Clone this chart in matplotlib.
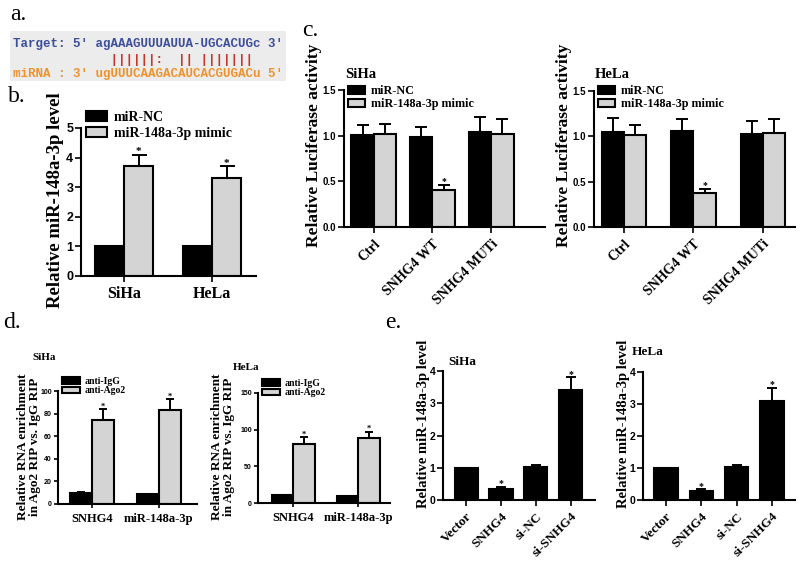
import numpy as np
import matplotlib
matplotlib.use('Agg')
import matplotlib.pyplot as plt
from matplotlib.patches import Rectangle

plt.rcParams['font.family'] = 'Liberation Serif'
plt.rcParams['font.weight'] = 'bold'

W, H = 800, 562

# ---- a. sequence alignment ----
seq_target = "Target: 5' agAAAGUUUAUUA-UGCACUGc 3'"
seq_pairs = "             ||||||:  || |||||||"
seq_mirna = "miRNA : 3' ugUUUCAAGACAUCACGUGACu 5'"

# ---- b. miR-148a-3p level ----
b_cells = ['SiHa', 'HeLa']
b_nc = [1.0, 1.0]
b_nc_err = [0, 0]
b_mimic = [3.7, 3.3]
b_mimic_err = [0.4, 0.4]
b_sig = [True, True]

# ---- c. luciferase ----
c_groups = ['Ctrl', 'SNHG4 WT', 'SNHG4 MUTi']
c_siha_nc = [1.01, 0.99, 1.04]
c_siha_nc_err = [0.11, 0.11, 0.16]
c_siha_mimic = [1.02, 0.41, 1.02]
c_siha_mimic_err = [0.11, 0.05, 0.16]
c_hela_nc = [1.05, 1.06, 1.03]
c_hela_nc_err = [0.15, 0.13, 0.14]
c_hela_mimic = [1.01, 0.37, 1.04]
c_hela_mimic_err = [0.11, 0.05, 0.15]
c_sig = [False, True, False]

# ---- d. RIP ----
d_targets = ['SNHG4', 'miR-148a-3p']
d_siha_igg = [9.5, 8.5]
d_siha_igg_err = [1.0, 0.6]
d_siha_ago2 = [74, 83]
d_siha_ago2_err = [10, 10]
d_hela_igg = [10.5, 9.0]
d_hela_igg_err = [0.8, 0.8]
d_hela_ago2 = [80, 88]
d_hela_ago2_err = [10, 9]
d_sig = [True, True]

# ---- e. miR-148a-3p after SNHG4 change ----
e_groups = ['Vector', 'SNHG4', 'si-NC', 'si-SNHG4']
e_siha = [1.0, 0.33, 1.02, 3.4]
e_siha_err = [0, 0.07, 0.06, 0.4]
e_hela = [1.0, 0.27, 1.02, 3.1]
e_hela_err = [0, 0.06, 0.07, 0.4]
e_sig = [False, True, False, True]

GRAY = '#d4d4d4'

fig = plt.figure(figsize=(8, 5.62), dpi=100)


def pax(l, t, r, b):
    return fig.add_axes([l / W, 1 - b / H, (r - l) / W, (b - t) / H])


def ptext(x, y, s, **kw):
    return fig.text(x / W, 1 - y / H, s, **kw)


def style(ax, ylim, yticks, fs, xlim, tl=4):
    for s in ['top', 'right']:
        ax.spines[s].set_visible(False)
    for s in ['left', 'bottom']:
        ax.spines[s].set_linewidth(1.5)
    ax.set_xlim(*xlim)
    ax.set_ylim(*ylim)
    ax.set_yticks(yticks)
    ax.tick_params(axis='y', labelsize=fs, labelfontfamily='Liberation Sans',
                   width=1.2, length=tl, pad=1.5)
    ax.tick_params(axis='x', width=1.2, length=tl)


def bars(ax, x, vals, errs, color, width, cap, sig=None, sfs=7):
    cont = ax.bar(x, vals, width, color=color, edgecolor='black', linewidth=1.5, zorder=2)
    ax.errorbar(x, vals, yerr=[np.zeros(len(vals)), errs], fmt='none', ecolor='black',
                elinewidth=1.4, capsize=cap, capthick=1.4, zorder=1)
    if sig is not None:
        for xi, v, e, s in zip(x, vals, errs, sig):
            if s:
                ax.annotate('*', (xi, v + e), xytext=(0, -1), textcoords='offset points',
                            ha='center', va='bottom', fontsize=sfs)
    return cont


def legend(ax, handles, labels, x, y, fs, hl, hh, ls):
    ax.legend(handles, labels, loc='upper left', bbox_to_anchor=(x / W, 1 - y / H),
              bbox_transform=fig.transFigure, frameon=False, fontsize=fs,
              handlelength=hl, handleheight=hh, handletextpad=0.5,
              labelspacing=ls, borderpad=0, borderaxespad=0)


# a.
ptext(10, 4, 'a.', fontsize=17, fontweight='normal', va='top')
fig.patches.append(Rectangle((10 / W, 1 - 81 / H), 276 / W, 50 / H,
                             transform=fig.transFigure, facecolor='#ececec',
                             edgecolor='none'))
mono = dict(family='Liberation Mono', fontweight='bold', fontsize=9, va='center')
ptext(13, 44, seq_target, color='#3d4f9b', **mono)
ptext(13, 60, seq_pairs, color='#c0392b', **mono)
ptext(13, 74, seq_mirna, color='#f0922b', **mono)

# b.
ptext(8, 86, 'b.', fontsize=17, fontweight='normal', va='top')
ax = pax(81, 128, 256, 276)
x = np.arange(len(b_cells))
w = 0.33
h1 = bars(ax, x - w / 2, b_nc, b_nc_err, 'black', w, 5.4)
h2 = bars(ax, x + w / 2, b_mimic, b_mimic_err, GRAY, w, 5.4, b_sig, 8)
style(ax, (0, 5), range(0, 6), 9, (-0.49, 1.5))
ax.set_xticks(x)
ax.set_xticklabels(b_cells, fontsize=11.5)
ptext(55, 200, 'Relative miR-148a-3p level', fontsize=13.5, rotation=90,
      ha='center', va='center')
legend(ax, [h1, h2], ['miR-NC', 'miR-148a-3p mimic'], 86, 111, 10, 1.5, 0.7, 0.2)

# c.
ptext(302, 20, 'c.', fontsize=17, fontweight='normal', va='top')
c_panels = [
    (344, 90, 545, 227, (-0.51, 2.92), 0.385, 'SiHa', 314,
     c_siha_nc, c_siha_nc_err, c_siha_mimic, c_siha_mimic_err),
    (594, 91, 795, 227, (-0.43, 2.46), 0.32, 'HeLa', 564,
     c_hela_nc, c_hela_nc_err, c_hela_mimic, c_hela_mimic_err),
]
for l, t, r, b, xl, w, cell, ylx, nc, nce, mm, mme in c_panels:
    ax = pax(l, t, r, b)
    x = np.arange(len(c_groups))
    h1 = bars(ax, x - w / 2, nc, nce, 'black', w, 4.3)
    h2 = bars(ax, x + w / 2, mm, mme, GRAY, w, 4.3, c_sig, 7)
    style(ax, (0, 1.5), [0, 0.5, 1.0, 1.5], 7, xl)
    ax.yaxis.set_major_formatter(matplotlib.ticker.FormatStrFormatter('%.1f'))
    ax.set_xticks(x)
    ax.set_xticklabels(c_groups, fontsize=10, rotation=45, ha='right',
                       rotation_mode='anchor')
    ptext(ylx, 145, 'Relative Luciferase activity', fontsize=12.5, rotation=90,
          ha='center', va='center')
    ptext(l + 1, 74, cell, fontsize=10.5, va='center')
    legend(ax, [h1, h2], ['miR-NC', 'miR-148a-3p mimic'], l + 4, 85, 8.7, 1.4, 0.7, 0.1)

# d.
ptext(3, 312, 'd.', fontsize=17, fontweight='normal', va='top')
d_panels = [
    (58, 391, 197, 504, (-0.51, 1.57), (0, 100), range(0, 101, 20), 'SiHa', 32, 357, 29,
     d_siha_igg, d_siha_igg_err, d_siha_ago2, d_siha_ago2_err),
    (258, 393, 390, 503, (-0.54, 1.49), (0, 150), range(0, 151, 50), 'HeLa', 233, 367, 223,
     d_hela_igg, d_hela_igg_err, d_hela_ago2, d_hela_ago2_err),
]
for l, t, r, b, xl, yl, yt, cell, tx, ty, ylx, igg, igge, ago, agoe in d_panels:
    ax = pax(l, t, r, b)
    x = np.arange(len(d_targets))
    w = 0.33
    h1 = bars(ax, x - w / 2, igg, igge, 'black', w, 3)
    h2 = bars(ax, x + w / 2, ago, agoe, GRAY, w, 3, d_sig, 6)
    style(ax, yl, yt, 5, xl, tl=3)
    ax.set_xticks(x)
    ax.set_xticklabels(d_targets, fontsize=9)
    ptext(ylx, 447, 'Relative RNA enrichment\nin Ago2 RIP vs. IgG RIP', fontsize=9.5,
          rotation=90, ha='center', va='center', linespacing=0.9)
    ptext(tx, ty, cell, fontsize=8, va='center')
    legend(ax, [h1, h2], ['anti-IgG', 'anti-Ago2'], l + 4, t - 14, 7, 1.8, 0.6, 0.02)

# e.
ptext(385, 312, 'e.', fontsize=17, fontweight='normal', va='top')
e_panels = [
    (443, 371, 595, 500, (-0.66, 3.69), 'SiHa', 448, 362, 424, e_siha, e_siha_err),
    (643, 372, 795, 500, (-0.65, 3.65), 'HeLa', 632, 352, 624, e_hela, e_hela_err),
]
for l, t, r, b, xl, cell, tx, ty, ylx, vals, errs in e_panels:
    ax = pax(l, t, r, b)
    x = np.arange(len(e_groups))
    bars(ax, x, vals, errs, 'black', 0.66, 3.6, e_sig, 7)
    style(ax, (0, 4), range(0, 5), 7.5, xl)
    ax.set_xticks(x)
    ax.set_xticklabels(e_groups, fontsize=9.5, rotation=45, ha='right',
                       rotation_mode='anchor')
    ptext(ylx, 424, 'Relative miR-148a-3p level', fontsize=10.5, rotation=90,
          ha='center', va='center')
    ptext(tx, ty, cell, fontsize=9.5, va='center')

fig.savefig('out.png', dpi=100)
